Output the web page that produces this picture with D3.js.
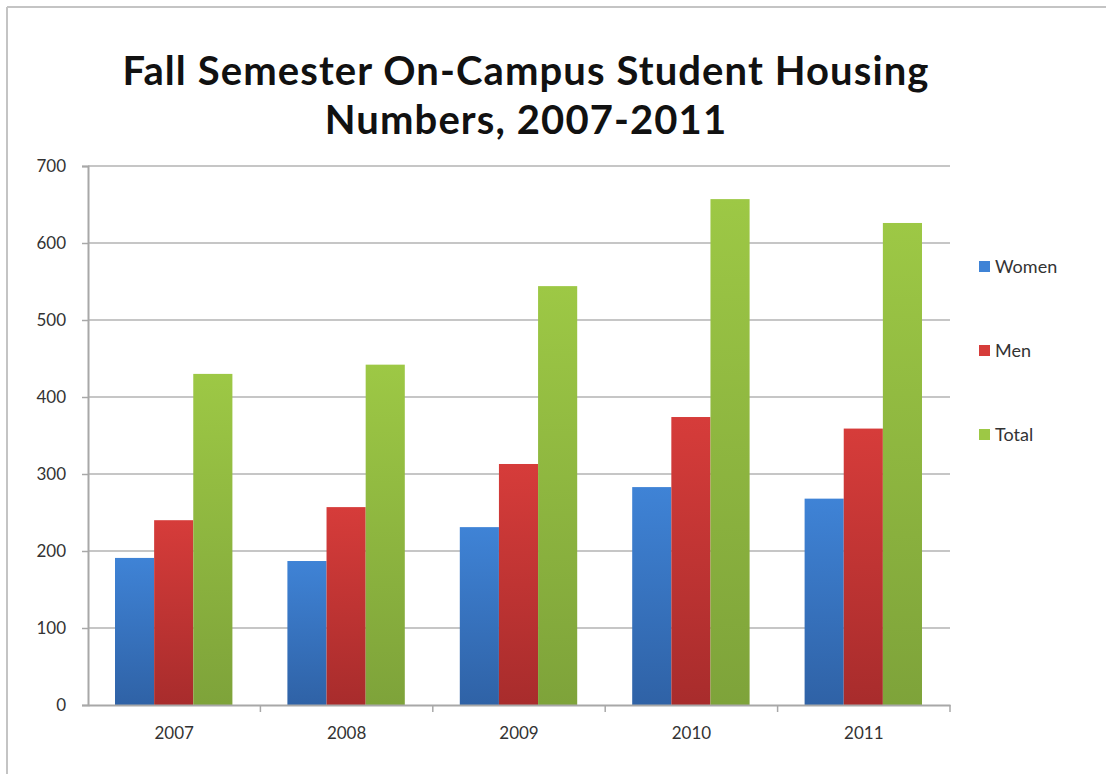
<!DOCTYPE html>
<html>
<head>
<meta charset="utf-8">
<script src="https://cdn.jsdelivr.net/npm/d3@7"></script>
<style>
  body { margin: 0; background: #fff; }
  svg text { font-family: Lato, "Open Sans", sans-serif; }
</style>
</head>
<body>
<svg class="chart" width="1106" height="774"></svg>
<script>
// values
var years = ["2007", "2008", "2009", "2010", "2011"];
var women = [191, 187, 231, 283, 268];
var men   = [240, 257, 313, 374, 359];
var total = [430, 442, 544, 657, 626];
var seriesNames = ["Women", "Men", "Total"];
var yTicks = [0, 100, 200, 300, 400, 500, 600, 700];

var svg = d3.select("svg.chart"),
    width = 1106,
    height = 774;

var margin = {left: 88, right: 156, top: 166, bottom: 69};
var plotW = width - margin.left - margin.right,
    plotH = height - margin.top - margin.bottom;

var colors = {
  Women: ["#3f83d6", "#2f62a6"],
  Men:   ["#d63c3a", "#a82c2c"],
  Total: ["#9dc845", "#7ea33a"]
};

// gradients like old office bars
var defs = svg.append("defs");
seriesNames.forEach(function(s) {
  var g = defs.append("linearGradient")
      .attr("id", "grad-" + s)
      .attr("x1", 0).attr("y1", 0).attr("x2", 0).attr("y2", 1);
  g.append("stop").attr("offset", "0%").attr("stop-color", colors[s][0]);
  g.append("stop").attr("offset", "100%").attr("stop-color", colors[s][1]);
});

// outer frame (top + left edges only show in the shot)
svg.append("line").attr("x1", 7).attr("x2", width).attr("y1", 7).attr("y2", 7)
    .attr("stroke", "#c4c4c4").attr("stroke-width", 2);
svg.append("line").attr("x1", 7).attr("x2", 7).attr("y1", 7).attr("y2", height)
    .attr("stroke", "#c4c4c4").attr("stroke-width", 2);

// title
var title = svg.append("text")
    .attr("text-anchor", "middle")
    .attr("font-weight", "bold")
    .attr("font-size", 40)
    .attr("letter-spacing", 1.1)
    .attr("fill", "#111");
title.append("tspan").attr("x", 526).attr("y", 85).text("Fall Semester On-Campus Student Housing");
title.append("tspan").attr("x", 526).attr("y", 134).text("Numbers, 2007-2011");

var rows = years.map(function(y, i) {
  return {year: y, Women: women[i], Men: men[i], Total: total[i]};
});

var x0 = d3.scaleBand()
    .domain(years)
    .range([0, plotW])
    .paddingInner(0)
    .paddingOuter(0);

var x1 = d3.scaleBand()
    .domain(seriesNames)
    .range([27, x0.bandwidth() - 28])
    .padding(0);

var y = d3.scaleLinear()
    .domain([0, 700])
    .range([plotH, 0]);

var plot = svg.append("g")
    .attr("transform", "translate(" + margin.left + "," + margin.top + ")");

// gridlines
plot.append("g")
  .selectAll("line")
  .data(yTicks.slice(1))
  .enter().append("line")
    .attr("x1", 0).attr("x2", plotW)
    .attr("y1", function(d) { return y(d); })
    .attr("y2", function(d) { return y(d); })
    .attr("stroke", "#c6c6c6")
    .attr("stroke-width", 2);

// bars
var group = plot.selectAll(".grp")
  .data(rows)
  .enter().append("g")
    .attr("class", "grp")
    .attr("transform", function(d) { return "translate(" + x0(d.year) + ",0)"; });

group.selectAll("rect")
  .data(function(d) { return seriesNames.map(function(s) { return {key: s, value: d[s]}; }); })
  .enter().append("rect")
    .attr("x", function(d) { return x1(d.key); })
    .attr("width", x1.bandwidth())
    .attr("y", function(d) { return y(d.value); })
    .attr("height", function(d) { return plotH - y(d.value); })
    .attr("fill", function(d) { return "url(#grad-" + d.key + ")"; });

// y axis
var yAxis = plot.append("g")
    .call(d3.axisLeft(y).tickValues(yTicks).tickSize(6).tickPadding(16));
yAxis.select(".domain").attr("stroke", "#a8a8a8").attr("stroke-width", 2);
yAxis.selectAll(".tick line").attr("stroke", "#a8a8a8").attr("stroke-width", 1.5);
yAxis.selectAll(".tick text")
    .attr("font-size", 17)
    .attr("fill", "#333")
    .style("font-family", "Lato, 'Open Sans', sans-serif");

// x axis with ticks between categories
var xAxis = plot.append("g")
    .attr("transform", "translate(0," + plotH + ")")
    .call(d3.axisBottom(x0).tickSize(0).tickPadding(22));
xAxis.select(".domain").attr("stroke", "#a8a8a8").attr("stroke-width", 2);
xAxis.selectAll(".tick text")
    .attr("font-size", 17)
    .attr("fill", "#333")
    .style("font-family", "Lato, 'Open Sans', sans-serif");
xAxis.selectAll(".sep")
  .data(years)
  .enter().append("line")
    .attr("class", "sep")
    .attr("x1", function(d) { return x0(d) + x0.bandwidth(); })
    .attr("x2", function(d) { return x0(d) + x0.bandwidth(); })
    .attr("y1", 0).attr("y2", 7)
    .attr("stroke", "#a8a8a8").attr("stroke-width", 1.5);

// legend
var legend = svg.append("g")
  .selectAll("g")
  .data(seriesNames)
  .enter().append("g")
    .attr("transform", function(d, i) { return "translate(979," + (267 + i * 84) + ")"; });

legend.append("rect")
    .attr("x", 0).attr("y", -6)
    .attr("width", 11).attr("height", 11)
    .attr("fill", function(d) { return colors[d][0]; });

legend.append("text")
    .attr("x", 16).attr("y", 6)
    .attr("font-size", 18)
    .attr("fill", "#333")
    .text(function(d) { return d; });
</script>
</body>
</html>
